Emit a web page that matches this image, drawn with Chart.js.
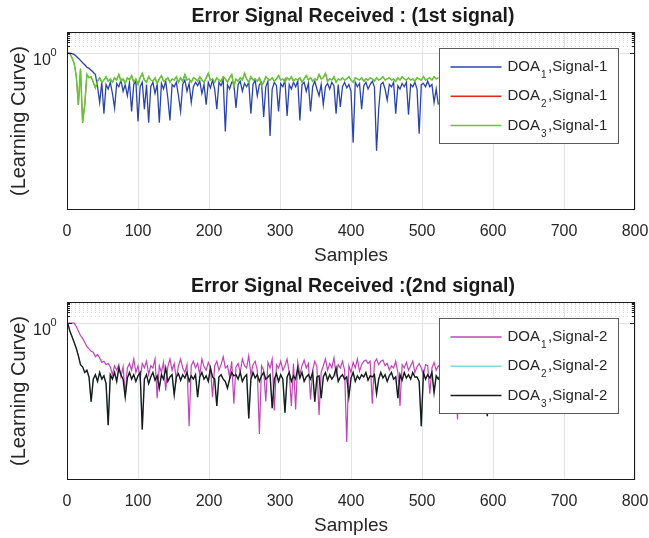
<!DOCTYPE html>
<html>
<head>
<meta charset="utf-8">
<script src="https://cdn.jsdelivr.net/npm/chart.js@4.4.1/dist/chart.umd.min.js"></script>
<style>
  html, body { margin: 0; padding: 0; background: #fff; }
  #wrap { position: relative; width: 649px; height: 538px; overflow: hidden; }
  canvas { position: absolute; left: 0; }
  #top { top: 0; }
  #bottom { top: 270px; }
</style>
</head>
<body>
<div id="wrap">
  <canvas id="top" width="649" height="269"></canvas>
  <canvas id="bottom" width="649" height="269"></canvas>
</div>
<script>
// points were read every 3rd sample, starting at sample 1
const FIRST_SAMPLE = 1;
const SAMPLE_STEP = 3;

// x axis
const X_MIN = 0, X_MAX = 800, X_STEP = 100;
// log y axis limits, major tick and the minor (dotted) ticks above it
const Y_MIN = 1e-7, Y_MAX = 8.8;
const Y_MAJOR = 1;
const Y_MINOR = [2, 3, 4, 5, 6, 7, 8];

// values are log10 of the error
// signal 1
const doa1Sig1 = [
  0, 0, -0.02, -0.05, -0.14, -0.23, -0.32, -0.43, -0.52, -0.63,
  -0.68, -0.76, -0.85, -0.95, -1.5, -2.2, -1.3, -2.7, -1.4, -1.6,
  -1.3, -1.8, -2.45, -1.35, -1.5, -1.2, -1.7, -1.4, -1.9, -1.3,
  -2.6, -1.4, -1.25, -3.05, -1.5, -1.3, -2.5, -1.4, -3.1, -1.5,
  -1.3, -1.8, -1.4, -3.1, -1.35, -1.6, -1.25, -2.0, -3.0, -1.4,
  -1.5, -1.3, -1.9, -2.6, -1.4, -1.2, -1.7, -1.35, -2.2, -1.5,
  -1.3, -1.45, -1.25, -1.8, -1.4, -2.3, -1.3, -1.55, -1.2, -1.6,
  -2.5, -1.3, -1.45, -1.2, -3.5, -1.4, -1.6, -1.3, -1.35, -2.45,
  -1.4, -1.25, -1.7, -1.35, -1.5, -1.3, -2.7, -1.4, -1.2, -1.9,
  -1.4, -1.3, -2.85, -1.5, -1.25, -3.7, -1.6, -1.3, -1.45, -2.6,
  -1.35, -1.5, -1.2, -2.8, -1.4, -1.6, -1.3, -1.5, -1.25, -3.0,
  -1.4, -1.3, -1.7, -1.35, -2.6, -1.5, -1.25, -1.6, -1.9, -1.4,
  -2.3, -1.5, -1.35, -1.6, -1.3, -1.45, -2.7, -1.4, -2.4, -1.5,
  -1.3, -1.55, -1.4, -1.7, -4.0, -1.3, -1.5, -1.35, -2.5, -1.45,
  -1.3, -1.6, -1.4, -1.25, -1.5, -4.35, -2.5, -1.4, -1.3, -1.6,
  -2.1, -1.4, -1.5, -1.3, -2.7, -1.45, -1.6, -1.35, -1.5, -1.3,
  -2.75, -1.4, -1.5, -1.3, -1.6, -3.6, -1.4, -1.35, -1.5, -1.25,
  -1.5, -1.4, -2.2, -1.6, -2.3
];
const doa3Sig1 = [
  0, -0.02, -0.2, -0.45, -1.0, -2.3, -0.7, -3.1, -2.3, -0.95,
  -1.1, -1.05, -1.3, -1.55, -1.25, -1.1, -1.3, -1.2, -1.05, -1.25,
  -1.15, -1.3, -1.1, -1.2, -0.95, -1.25, -1.15, -1.35, -1.1, -1.2,
  -1.0, -1.3, -1.15, -1.4, -1.1, -0.9, -1.2, -1.3, -1.05, -1.2,
  -1.25, -1.1, -1.35, -1.15, -1.0, -1.25, -1.2, -1.1, -1.3, -1.15,
  -1.2, -1.05, -1.3, -1.1, -1.25, -0.95, -1.2, -1.15, -1.3, -1.1,
  -1.15, -1.25, -1.05, -1.2, -1.3, -1.1, -0.9, -1.2, -1.15, -1.3,
  -1.1, -1.2, -1.25, -1.05, -1.15, -1.3, -1.1, -0.95, -1.5, -1.15,
  -1.25, -1.1, -1.2, -0.9, -1.15, -1.3, -1.05, -1.2, -1.15, -1.25,
  -1.1, -1.45, -1.3, -1.05, -1.15, -1.2, -1.1, -1.25, -1.15, -1.0,
  -1.2, -1.15, -1.3, -1.1, -1.2, -1.05, -1.25, -1.15, -1.2, -1.1,
  -1.3, -1.15, -1.0, -1.2, -1.1, -1.25, -1.15, -1.2, -0.95, -1.15,
  -1.1, -0.9, -1.25, -1.15, -1.2, -1.05, -1.3, -1.15, -1.2, -1.1,
  -1.2, -1.15, -1.05, -1.2, -1.3, -1.1, -1.15, -1.2, -1.1, -1.25,
  -1.15, -1.2, -1.1, -1.15, -1.25, -1.1, -1.2, -1.15, -1.05, -1.2,
  -1.15, -1.1, -1.2, -1.15, -1.25, -1.1, -1.2, -1.05, -1.15, -1.2,
  -1.1, -1.2, -1.15, -1.25, -1.1, -1.15, -1.2, -1.05, -1.2, -1.15,
  -1.1, -1.2, -1.05, -1.15, -1.1
];
// DOA2 lies exactly under DOA3 in the figure
const doa2Sig1 = doa3Sig1;

// signal 2
const doa1Sig2 = [
  0, 0, 0, 0, -0.15, -0.35, -0.55, -0.68, -0.85, -1.05,
  -1.15, -1.25, -1.3, -1.5, -1.4, -1.55, -1.75, -1.7, -1.85, -1.8,
  -1.95, -2.3, -1.9, -2.1, -1.85, -2.4, -1.95, -3.2, -2.0, -1.8,
  -2.1, -1.6, -2.2, -1.9, -2.5, -1.8, -2.0, -1.7, -2.3, -1.9,
  -2.0, -1.6, -3.35, -1.9, -2.2, -1.75, -3.0, -1.95, -1.6, -2.1,
  -1.8, -2.5, -1.9, -1.6, -2.0, -2.2, -1.85, -4.6, -1.9, -1.7,
  -2.0, -1.8, -2.3, -1.6, -1.95, -2.1, -1.75, -2.0, -3.3, -1.9,
  -1.7, -2.1, -1.85, -1.5, -2.0, -1.9, -2.4, -1.7, -3.6, -1.95,
  -1.8, -2.2, -1.6, -1.9, -2.0, -1.45, -2.3, -1.85, -1.7, -2.1,
  -4.95, -1.9, -2.1, -3.5, -1.75, -2.0, -1.6, -3.9, -1.85, -2.0,
  -1.7, -2.1, -1.9, -1.6, -2.2, -3.7, -1.8, -3.85, -1.75, -2.3,
  -1.9, -1.65, -2.0, -1.8, -3.4, -2.1, -1.7, -1.95, -4.1, -2.2,
  -1.9, -1.6, -2.1, -1.8, -2.0, -1.55, -2.3, -1.85, -2.0, -1.7,
  -2.1, -5.3, -1.9, -2.2, -1.75, -2.0, -1.6, -2.15, -1.85, -1.7,
  -1.65, -1.8, -1.7, -3.6, -1.75, -1.6, -1.85, -1.7, -1.65, -1.9,
  -1.8, -2.1, -1.9, -2.0, -1.7, -2.2, -3.7, -1.85, -2.0, -1.75,
  -2.1, -1.9, -1.7, -2.2, -1.95, -1.8, -2.0, -2.3, -1.85, -1.9,
  -3.15, -2.0, -1.75, -2.1, -1.9, -2.0, -1.8, -2.2, -1.95, -2.0,
  -1.8, -2.1, -2.0, -4.3, -1.9, -2.0, -2.2, -1.85, -2.0, -2.1,
  -1.9, -2.1, -1.95, -2.0, -2.2, -1.85, -2.0, -2.1, -1.9, -2.0
];
const doa3Sig2 = [
  0, -0.35, -0.6, -0.85, -1.12, -1.45, -1.85, -1.95, -2.2, -2.1,
  -2.4, -3.5, -2.5, -2.3, -2.6, -2.2, -2.5, -2.35, -2.7, -4.55,
  -2.3, -2.5, -2.2, -2.6, -2.0, -2.3, -2.5, -3.3, -2.45, -2.2,
  -2.5, -2.3, -2.6, -2.35, -2.2, -4.75, -2.5, -2.3, -2.7, -2.4,
  -2.2, -2.55, -2.35, -2.9, -2.3, -2.5, -2.0, -2.6, -2.4, -2.3,
  -3.2, -2.4, -2.25, -2.55, -2.3, -2.45, -2.2, -2.6, -2.35, -2.5,
  -2.3, -3.3, -2.4, -2.2, -2.5, -2.35, -2.6, -2.0, -2.4, -2.5,
  -3.7, -2.4, -2.3, -2.5, -2.6, -2.9, -2.5, -2.2, -2.35, -2.3,
  -2.5, -2.2, -2.6, -2.4, -2.3, -4.25, -2.5, -2.2, -2.45, -2.3,
  -2.6, -2.35, -2.2, -2.5, -2.4, -2.3, -3.8, -2.5, -2.25, -2.6,
  -2.3, -2.5, -4.0, -2.4, -2.2, -2.6, -2.35, -2.5, -2.0, -2.45,
  -2.2, -2.6, -2.4, -2.3, -2.5, -2.2, -3.5, -2.4, -2.35, -3.35,
  -2.4, -2.2, -2.55, -2.3, -2.5, -2.35, -2.0, -2.6, -2.4, -2.3,
  -2.5, -2.4, -3.3, -2.45, -2.2, -2.6, -2.35, -2.5, -2.3, -2.4,
  -2.2, -2.55, -2.35, -2.4, -2.3, -3.15, -2.5, -2.2, -2.45, -2.3,
  -2.6, -2.35, -2.2, -2.5, -2.4, -3.35, -2.3, -2.55, -2.2, -2.45,
  -2.3, -2.5, -2.2, -2.4, -2.4, -2.6, -4.6, -2.2, -2.5, -2.3,
  -2.45, -2.2, -3.1, -2.35, -2.5, -2.3, -2.4, -2.2, -2.55, -2.35,
  -2.4, -2.3, -2.5, -2.2, -2.4, -2.6, -2.3, -2.45, -2.2, -2.5,
  -2.35, -2.4, -2.3, -2.55, -2.2, -2.4, -2.5, -4.15, -2.3, -2.4
];
// DOA2 lies exactly under DOA3 in the figure
const doa2Sig2 = doa3Sig2;

const FONT = "'Liberation Sans', Arial, Helvetica, sans-serif";
const TEXT = '#262626';

function toPoints(logs) {
  return logs.map((e, i) => ({ x: FIRST_SAMPLE + i * SAMPLE_STEP, y: Math.pow(10, e) }));
}

function lineSet(label, logs, color, order, width) {
  return {
    label: label,
    data: toPoints(logs),
    borderColor: color,
    backgroundColor: color,
    borderWidth: width,
    pointRadius: 0,
    tension: 0,
    fill: false,
    order: order
  };
}

// grid, frame, y ticks, title and the boxed legend inside the axes
const figureDecor = {
  id: 'figureDecor',
  beforeDatasetsDraw(chart, args, opts) {
    const { ctx, chartArea: a, scales: { y } } = chart;
    ctx.save();
    ctx.lineWidth = 1;
    ctx.strokeStyle = '#dcdcdc';
    ctx.setLineDash([1, 3]);
    Y_MINOR.forEach(v => {
      const py = Math.round(y.getPixelForValue(v)) + 0.5;
      ctx.beginPath();
      ctx.moveTo(a.left, py);
      ctx.lineTo(a.right, py);
      ctx.stroke();
    });
    ctx.setLineDash([]);
    ctx.strokeStyle = '#e2e2e2';
    const py = Math.round(y.getPixelForValue(Y_MAJOR)) + 0.5;
    ctx.beginPath();
    ctx.moveTo(a.left, py);
    ctx.lineTo(a.right, py);
    ctx.stroke();
    ctx.restore();
  },
  afterDatasetsDraw(chart, args, opts) {
    const { ctx, chartArea: a, scales: { y } } = chart;
    ctx.save();
    // frame
    ctx.strokeStyle = '#1a1a1a';
    ctx.lineWidth = 1;
    ctx.strokeRect(a.left + 0.5, a.top + 0.5, a.right - a.left - 1, a.bottom - a.top - 1);
    // y ticks, inside, both sides
    [Y_MAJOR].concat(Y_MINOR).forEach(v => {
      const py = Math.round(y.getPixelForValue(v)) + 0.5;
      const len = v === Y_MAJOR ? 5 : 3;
      ctx.beginPath();
      ctx.moveTo(a.left, py);
      ctx.lineTo(a.left + len, py);
      ctx.moveTo(a.right, py);
      ctx.lineTo(a.right - len, py);
      ctx.stroke();
    });
    // 10^0 tick label
    const ty = y.getPixelForValue(Y_MAJOR);
    ctx.fillStyle = TEXT;
    ctx.textBaseline = 'alphabetic';
    ctx.textAlign = 'left';
    ctx.font = '16px ' + FONT;
    ctx.fillText('10', 33, ty + 12);
    ctx.font = '11px ' + FONT;
    ctx.fillText('0', 50.5, ty + 2.5);

    // title
    ctx.font = 'bold 19.5px ' + FONT;
    ctx.textAlign = 'center';
    ctx.fillStyle = '#1a1a1a';
    ctx.fillText(opts.title, (a.left + a.right) / 2 + 2, 21.5);

    // legend box
    const bx = 439.5, by = 48.5, bw = 179, bh = 95;
    ctx.fillStyle = '#fff';
    ctx.fillRect(bx, by, bw, bh);
    ctx.strokeStyle = '#5a5a5a';
    ctx.strokeRect(bx, by, bw, bh);
    opts.entries.forEach((ent, i) => {
      const ly = 67 + i * 29.3;
      ctx.strokeStyle = ent.color;
      ctx.lineWidth = 1.5;
      ctx.beginPath();
      ctx.moveTo(bx + 11, ly);
      ctx.lineTo(bx + 62, ly);
      ctx.stroke();
      ctx.fillStyle = TEXT;
      ctx.textAlign = 'left';
      ctx.font = '15px ' + FONT;
      let tx = bx + 68;
      ctx.fillText('DOA', tx, ly + 4);
      tx += ctx.measureText('DOA').width + 1;
      ctx.font = '10px ' + FONT;
      ctx.fillText(ent.sub, tx, ly + 11);
      tx += ctx.measureText(ent.sub).width + 1.5;
      ctx.font = '15px ' + FONT;
      ctx.fillText(ent.rest, tx, ly + 4);
    });
    ctx.restore();
  }
};

function makeChart(canvasId, title, datasets, entries) {
  return new Chart(document.getElementById(canvasId), {
    type: 'line',
    data: { datasets: datasets },
    plugins: [figureDecor],
    options: {
      responsive: false,
      animation: false,
      devicePixelRatio: 1,
      layout: { padding: { top: 32, right: 14, left: 0, bottom: 0 } },
      plugins: {
        legend: { display: false },
        title: { display: false },
        tooltip: { enabled: false },
        figureDecor: { title: title, entries: entries }
      },
      scales: {
        x: {
          type: 'linear',
          min: X_MIN,
          max: X_MAX,
          // fixed height, and no extra room for the end labels
          afterFit: s => { s.height = 59; s.paddingLeft = 0; s.paddingRight = 0; },
          ticks: {
            stepSize: X_STEP,
            maxRotation: 0,
            autoSkip: false,
            padding: 12,
            color: TEXT,
            font: { family: FONT, size: 16 }
          },
          grid: { color: '#e4e4e4', lineWidth: 1, drawTicks: false },
          border: { display: false },
          title: {
            display: true,
            text: 'Samples',
            color: TEXT,
            padding: { top: 0, bottom: 2 },
            font: { family: FONT, size: 19, lineHeight: 1.2 }
          }
        },
        y: {
          type: 'logarithmic',
          min: Y_MIN,
          max: Y_MAX,
          afterFit: s => { s.width = 67; s.paddingTop = 0; s.paddingBottom = 0; },
          ticks: { display: false },
          grid: { display: false },
          border: { display: false },
          title: {
            display: true,
            text: '(Learning Curve)',
            color: TEXT,
            padding: { top: 7, bottom: 0 },
            font: { family: FONT, size: 20, lineHeight: 1.2 }
          }
        }
      }
    }
  });
}

const BLUE = '#2a44a8', RED = '#e8231c', GREEN = '#62c83a';
const MAGENTA = '#c044b8', CYAN = '#7fdcdc', BLACK = '#1a1a1a';

makeChart('top', 'Error Signal Received : (1st signal)', [
  lineSet('DOA1,Signal-1', doa1Sig1, BLUE, 3, 1.3),
  lineSet('DOA2,Signal-1', doa2Sig1, RED, 2, 1),
  lineSet('DOA3,Signal-1', doa3Sig1, GREEN, 1, 1.5)
], [
  { sub: '1', rest: ',Signal-1', color: BLUE },
  { sub: '2', rest: ',Signal-1', color: RED },
  { sub: '3', rest: ',Signal-1', color: GREEN }
]);

makeChart('bottom', 'Error Signal Received :(2nd signal)', [
  lineSet('DOA1,Signal-2', doa1Sig2, MAGENTA, 3, 1.2),
  lineSet('DOA2,Signal-2', doa2Sig2, CYAN, 2, 1),
  lineSet('DOA3,Signal-2', doa3Sig2, BLACK, 1, 1.4)
], [
  { sub: '1', rest: ',Signal-2', color: MAGENTA },
  { sub: '2', rest: ',Signal-2', color: CYAN },
  { sub: '3', rest: ',Signal-2', color: BLACK }
]);
</script>
</body>
</html>
